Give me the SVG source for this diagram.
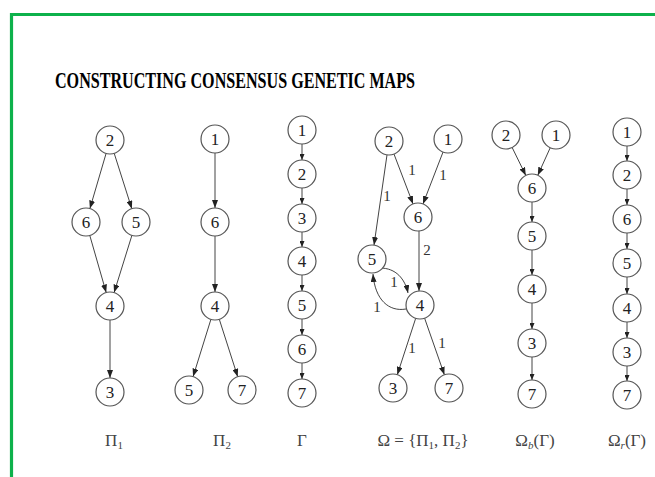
<svg xmlns="http://www.w3.org/2000/svg" width="655" height="477" viewBox="0 0 655 477">
<style>
.frame{fill:none;stroke:#0db14b;stroke-width:3.2}
.nd ellipse{fill:#fff;stroke:#555;stroke-width:1.2}
.nd text{font-family:"Liberation Serif","Times New Roman",serif;font-size:17px;fill:#222;text-anchor:middle;dominant-baseline:central}
.e{fill:none;stroke:#444;stroke-width:1;marker-end:url(#ah)}
.s{fill:none;stroke:#444;stroke-width:1;marker-end:url(#as)}
.el{font-family:"Liberation Serif",serif;font-size:15px;fill:#333;text-anchor:middle}
.lab{font-family:"Liberation Serif",serif;font-size:17px;fill:#444;text-anchor:middle}
.sub{font-size:11px}
.title{font-family:"Liberation Serif",serif;font-weight:bold;font-size:24px;fill:#000}
</style>
<defs>
<marker id="ah" viewBox="0 0 8 6" refX="8" refY="3" markerWidth="8" markerHeight="6" markerUnits="userSpaceOnUse" orient="auto"><path d="M0,0 L8,3 L0,6 z" fill="#222"/></marker>
<marker id="as" viewBox="0 0 6 5" refX="6" refY="2.5" markerWidth="6" markerHeight="5" markerUnits="userSpaceOnUse" orient="auto"><path d="M0,0 L6,2.5 L0,5 z" fill="#222"/></marker>
</defs>
<rect width="655" height="477" fill="#fff"/>
<path class="frame" d="M11.5,477 V14.5 H655"/>
<text class="title" x="55" y="88" textLength="360" lengthAdjust="spacingAndGlyphs">CONSTRUCTING CONSENSUS GENETIC MAPS</text>

<g id="connectors">
<line class="e" x1="106.1" y1="153.4" x2="89.9" y2="208.6"/>
<line class="e" x1="114.2" y1="153.3" x2="131.8" y2="208.7"/>
<line class="e" x1="89.8" y1="235.5" x2="106.2" y2="292.5"/>
<line class="e" x1="131.9" y1="235.4" x2="114.1" y2="292.6"/>
<line class="e" x1="110" y1="320" x2="110" y2="378"/>
<line class="e" x1="215" y1="153" x2="215" y2="208"/>
<line class="e" x1="215" y1="236" x2="215" y2="292"/>
<line class="e" x1="210.9" y1="319.4" x2="193.1" y2="376.6"/>
<line class="e" x1="219.3" y1="319.3" x2="237.7" y2="376.7"/>
<line class="s" x1="302" y1="144" x2="302" y2="160"/>
<line class="s" x1="302" y1="188" x2="302" y2="204"/>
<line class="s" x1="302" y1="232" x2="302" y2="247"/>
<line class="s" x1="302" y1="275" x2="302" y2="291"/>
<line class="s" x1="302" y1="319" x2="302" y2="335"/>
<line class="s" x1="302" y1="363" x2="302" y2="379"/>
<line class="e" x1="394" y1="154.1" x2="413" y2="203.9"/>
<line class="e" x1="443" y1="152.1" x2="423" y2="203.9"/>
<line class="e" x1="387" y1="154.9" x2="374" y2="245.1"/>
<line class="e" x1="419" y1="231" x2="419" y2="291"/>
<line class="e" x1="415.7" y1="318.3" x2="397.3" y2="374.7"/>
<line class="e" x1="424.6" y1="318.2" x2="444.4" y2="374.8"/>
<path class="e" d="M380,268 C396,268 405,279 408,293"/>
<path class="e" d="M406,309 C389,312 375,300 373,274"/>
<line class="e" x1="512.2" y1="147.6" x2="525.8" y2="175.4"/>
<line class="e" x1="550.2" y1="147.8" x2="537.8" y2="175.2"/>
<line class="s" x1="532" y1="202" x2="532" y2="222"/>
<line class="s" x1="532" y1="250" x2="532" y2="275"/>
<line class="s" x1="532" y1="303" x2="532" y2="329"/>
<line class="s" x1="532" y1="357" x2="532" y2="380"/>
<line class="s" x1="627" y1="146" x2="627" y2="161"/>
<line class="s" x1="627" y1="189" x2="627" y2="205"/>
<line class="s" x1="627" y1="233" x2="627" y2="249"/>
<line class="s" x1="627" y1="277" x2="627" y2="294"/>
<line class="s" x1="627" y1="322" x2="627" y2="338"/>
<line class="s" x1="627" y1="366" x2="627" y2="381"/>
</g>

<g id="edge-labels">
<text class="el" x="412" y="175">1</text>
<text class="el" x="443" y="180">1</text>
<text class="el" x="387" y="201">1</text>
<text class="el" x="427" y="255">2</text>
<text class="el" x="394" y="287">1</text>
<text class="el" x="377" y="312">1</text>
<text class="el" x="412" y="353">1</text>
<text class="el" x="442" y="348">1</text>
</g>

<g id="p1-2" class="nd"><ellipse cx="110" cy="140" rx="14" ry="14"/><text x="110" y="140">2</text></g>
<g id="p1-6" class="nd"><ellipse cx="86" cy="222" rx="14" ry="14"/><text x="86" y="222">6</text></g>
<g id="p1-5" class="nd"><ellipse cx="136" cy="222" rx="14" ry="14"/><text x="136" y="222">5</text></g>
<g id="p1-4" class="nd"><ellipse cx="110" cy="306" rx="14" ry="14"/><text x="110" y="306">4</text></g>
<g id="p1-3" class="nd"><ellipse cx="110" cy="392" rx="14" ry="14"/><text x="110" y="392">3</text></g>
<g id="p2-1" class="nd"><ellipse cx="215" cy="139" rx="14" ry="14"/><text x="215" y="139">1</text></g>
<g id="p2-6" class="nd"><ellipse cx="215" cy="222" rx="14" ry="14"/><text x="215" y="222">6</text></g>
<g id="p2-4" class="nd"><ellipse cx="215" cy="306" rx="14" ry="14"/><text x="215" y="306">4</text></g>
<g id="p2-5" class="nd"><ellipse cx="189" cy="390" rx="14" ry="14"/><text x="189" y="390">5</text></g>
<g id="p2-7" class="nd"><ellipse cx="242" cy="390" rx="14" ry="14"/><text x="242" y="390">7</text></g>
<g id="g-1" class="nd"><ellipse cx="302" cy="130" rx="14" ry="14"/><text x="302" y="130">1</text></g>
<g id="g-2" class="nd"><ellipse cx="302" cy="174" rx="14" ry="14"/><text x="302" y="174">2</text></g>
<g id="g-3" class="nd"><ellipse cx="302" cy="218" rx="14" ry="14"/><text x="302" y="218">3</text></g>
<g id="g-4" class="nd"><ellipse cx="302" cy="261" rx="14" ry="14"/><text x="302" y="261">4</text></g>
<g id="g-5" class="nd"><ellipse cx="302" cy="305" rx="14" ry="14"/><text x="302" y="305">5</text></g>
<g id="g-6" class="nd"><ellipse cx="302" cy="349" rx="14" ry="14"/><text x="302" y="349">6</text></g>
<g id="g-7" class="nd"><ellipse cx="302" cy="393" rx="14" ry="14"/><text x="302" y="393">7</text></g>
<g id="o-2" class="nd"><ellipse cx="389" cy="141" rx="14" ry="14"/><text x="389" y="141">2</text></g>
<g id="o-1" class="nd"><ellipse cx="448" cy="139" rx="14" ry="14"/><text x="448" y="139">1</text></g>
<g id="o-6" class="nd"><ellipse cx="418" cy="217" rx="14" ry="14"/><text x="418" y="217">6</text></g>
<g id="o-5" class="nd"><ellipse cx="372" cy="259" rx="14" ry="14"/><text x="372" y="259">5</text></g>
<g id="o-4" class="nd"><ellipse cx="420" cy="305" rx="14" ry="14"/><text x="420" y="305">4</text></g>
<g id="o-3" class="nd"><ellipse cx="393" cy="388" rx="14" ry="14"/><text x="393" y="388">3</text></g>
<g id="o-7" class="nd"><ellipse cx="449" cy="388" rx="14" ry="14"/><text x="449" y="388">7</text></g>
<g id="ob-2" class="nd"><ellipse cx="506" cy="135" rx="14" ry="14"/><text x="506" y="135">2</text></g>
<g id="ob-1" class="nd"><ellipse cx="556" cy="135" rx="14" ry="14"/><text x="556" y="135">1</text></g>
<g id="ob-6" class="nd"><ellipse cx="532" cy="188" rx="14" ry="14"/><text x="532" y="188">6</text></g>
<g id="ob-5" class="nd"><ellipse cx="532" cy="236" rx="14" ry="14"/><text x="532" y="236">5</text></g>
<g id="ob-4" class="nd"><ellipse cx="532" cy="289" rx="14" ry="14"/><text x="532" y="289">4</text></g>
<g id="ob-3" class="nd"><ellipse cx="532" cy="343" rx="14" ry="14"/><text x="532" y="343">3</text></g>
<g id="ob-7" class="nd"><ellipse cx="532" cy="394" rx="14" ry="14"/><text x="532" y="394">7</text></g>
<g id="or-1" class="nd"><ellipse cx="627" cy="132" rx="14" ry="14"/><text x="627" y="132">1</text></g>
<g id="or-2" class="nd"><ellipse cx="627" cy="175" rx="14" ry="14"/><text x="627" y="175">2</text></g>
<g id="or-6" class="nd"><ellipse cx="627" cy="219" rx="14" ry="14"/><text x="627" y="219">6</text></g>
<g id="or-5" class="nd"><ellipse cx="627" cy="263" rx="14" ry="14"/><text x="627" y="263">5</text></g>
<g id="or-4" class="nd"><ellipse cx="627" cy="308" rx="14" ry="14"/><text x="627" y="308">4</text></g>
<g id="or-3" class="nd"><ellipse cx="627" cy="352" rx="14" ry="14"/><text x="627" y="352">3</text></g>
<g id="or-7" class="nd"><ellipse cx="627" cy="395" rx="14" ry="14"/><text x="627" y="395">7</text></g>

<g id="captions">
<text class="lab" x="114" y="446">Π<tspan class="sub" dy="3">1</tspan></text>
<text class="lab" x="222" y="446">Π<tspan class="sub" dy="3">2</tspan></text>
<text class="lab" x="302" y="446">Γ</text>
<text class="lab" x="423" y="446">Ω = {Π<tspan class="sub" dy="3">1</tspan><tspan dy="-3">, Π</tspan><tspan class="sub" dy="3">2</tspan><tspan dy="-3">}</tspan></text>
<text class="lab" x="535" y="446">Ω<tspan class="sub" dy="3" font-style="italic">b</tspan><tspan dy="-3">(Γ)</tspan></text>
<text class="lab" x="627" y="446">Ω<tspan class="sub" dy="3" font-style="italic">r</tspan><tspan dy="-3">(Γ)</tspan></text>
</g>
</svg>
